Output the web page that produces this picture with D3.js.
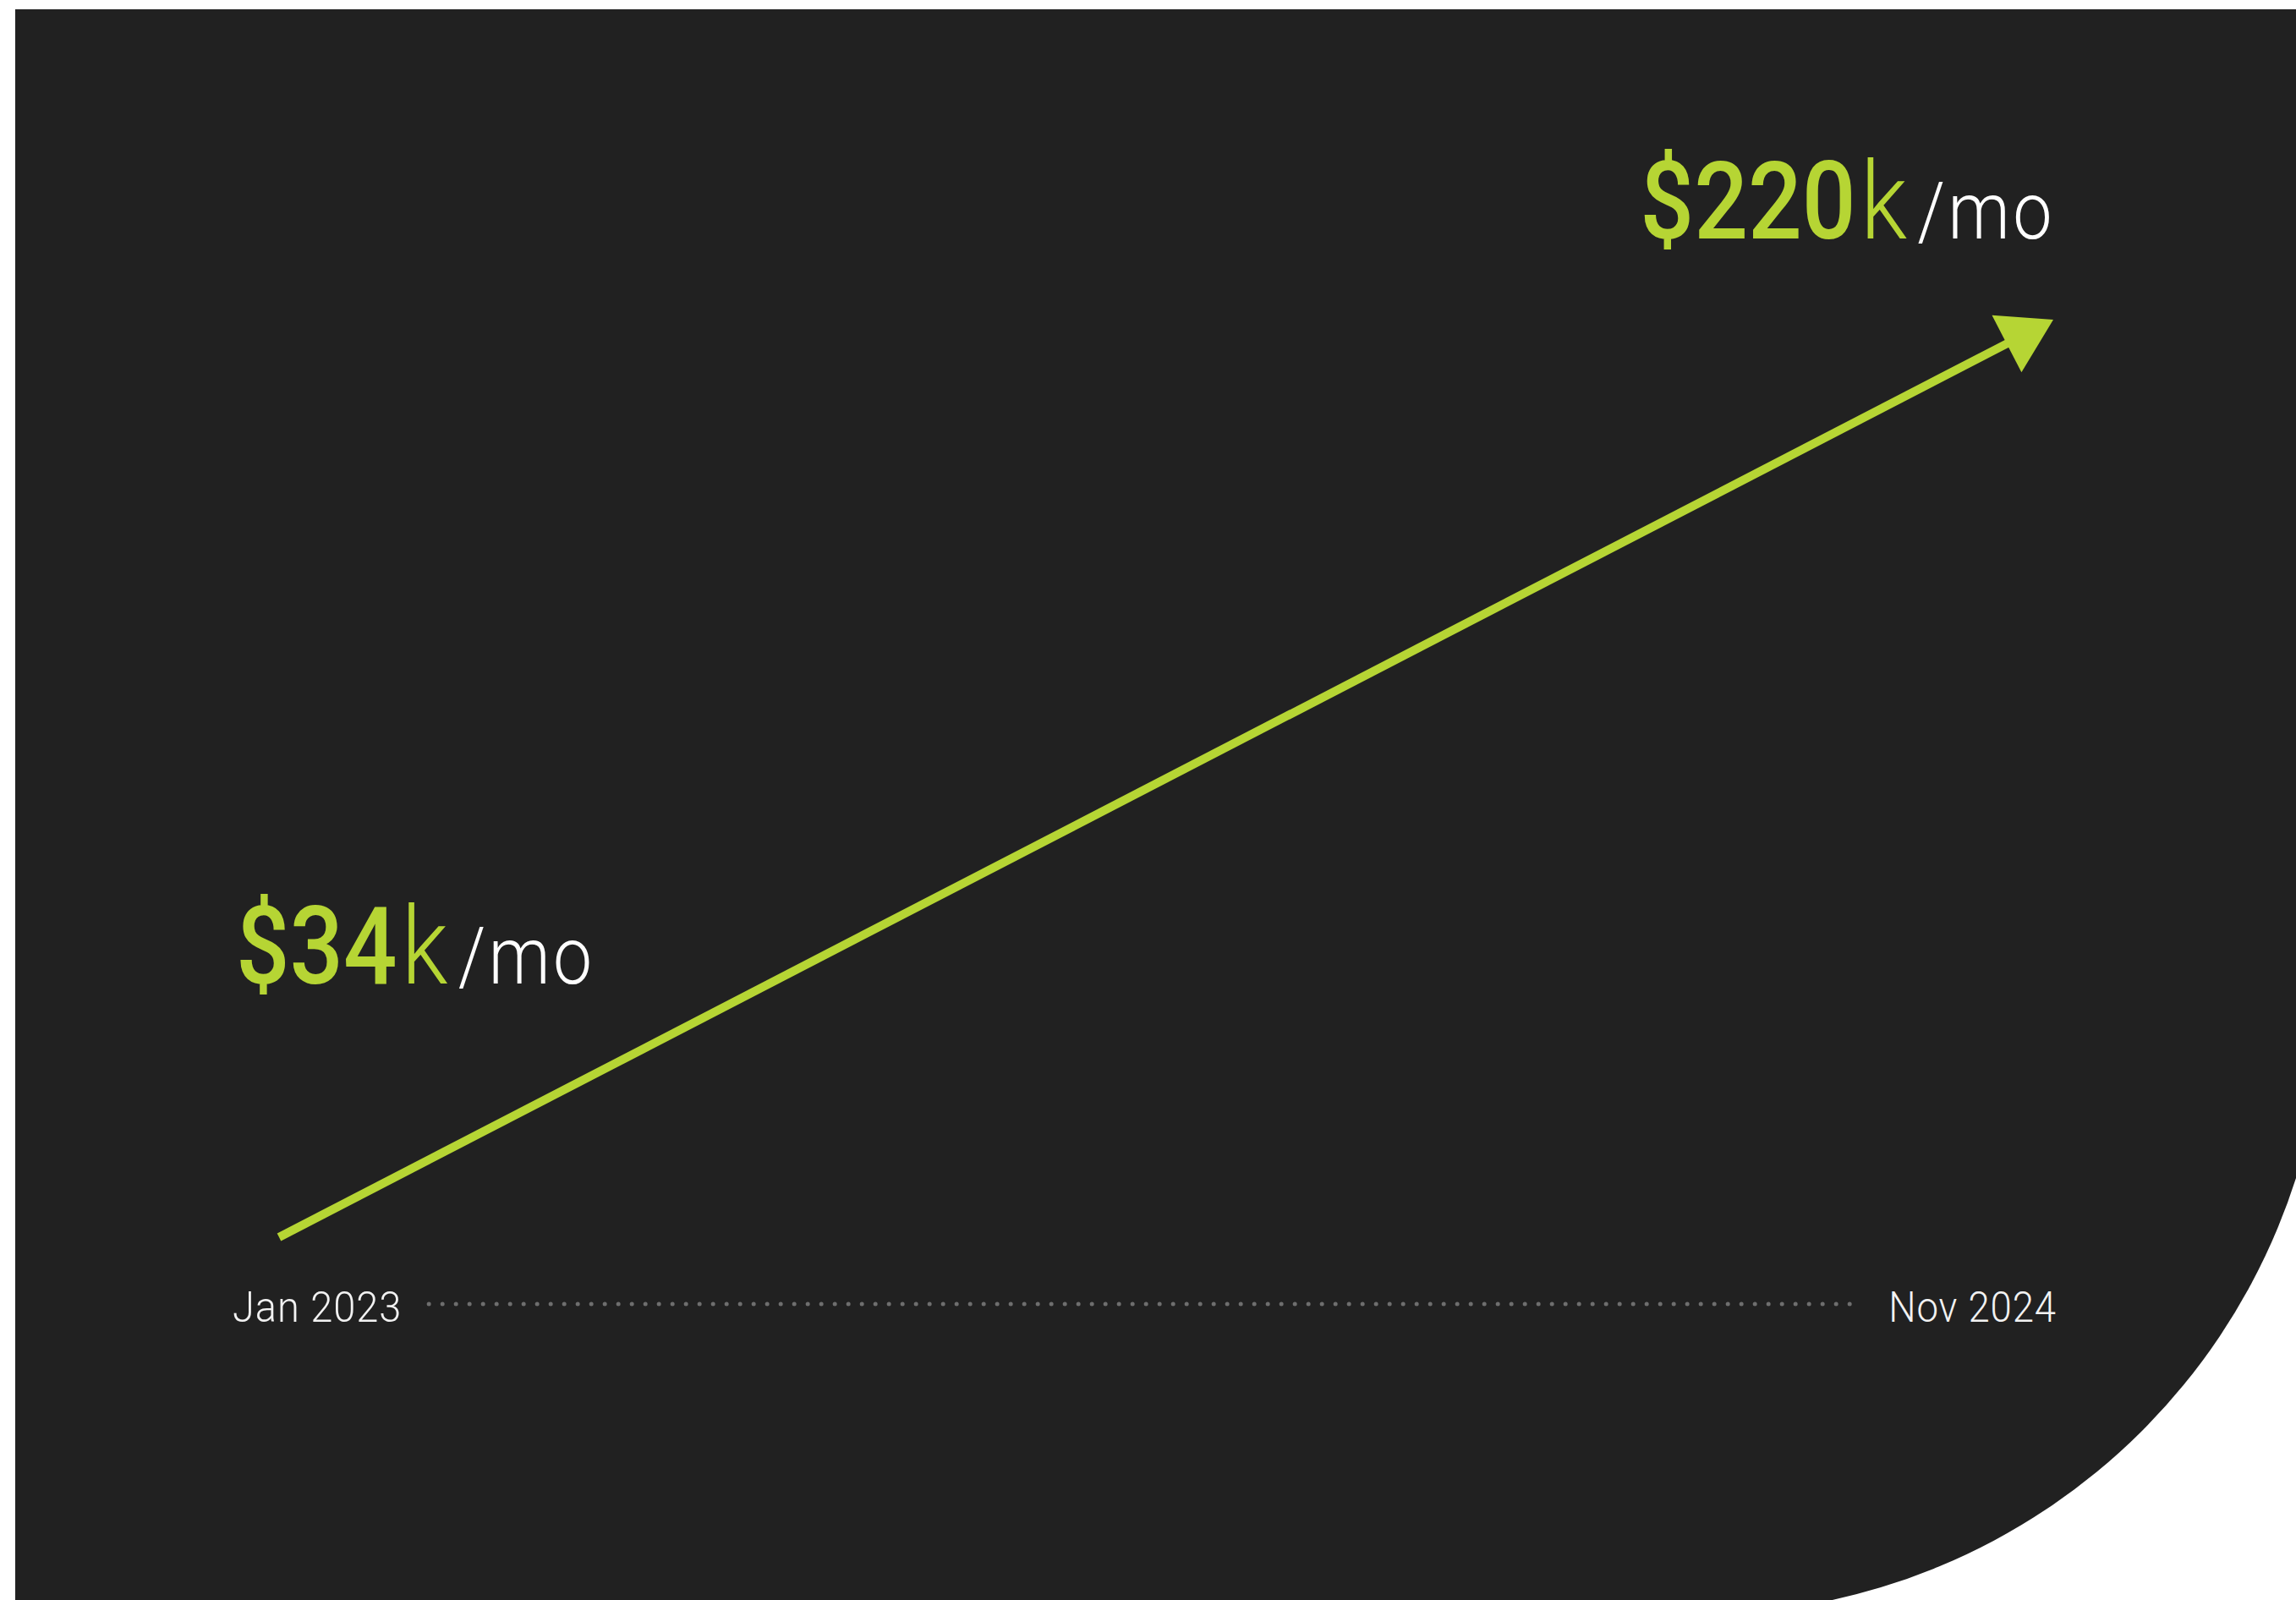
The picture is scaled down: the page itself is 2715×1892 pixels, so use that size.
<!DOCTYPE html>
<html lang="en">
<head>
<meta charset="utf-8">
<title>Monthly revenue Jan 2023 - Nov 2024</title>
<script src="https://cdn.jsdelivr.net/npm/d3@7"></script>
<style>
    html, body {
        margin: 0;
        padding: 0;
        background: #ffffff;
    }
    svg {
        display: block;
    }
    text {
        font-family: Roboto, "Noto Sans", sans-serif;
    }
</style>
</head>
<body>
<div id="chart"></div>
<script>
    // data
    var months = ["2023-01", "2024-11"];
    var revenue = [34, 220];               // $k per month
    var monthLabels = ["Jan 2023", "Nov 2024"];
    var unit = "/mo";

    var W = 2715, H = 1892;
    var green = "#b6d534",
        panel = "#212121";

    var parseMonth = d3.timeParse("%Y-%m");
    var data = months.map(function(m, i) {
        return { date: parseMonth(m), value: revenue[i], label: monthLabels[i] };
    });

    var svg = d3.select("#chart")
        .append("svg")
        .attr("width", W)
        .attr("height", H);

    // dark panel, big rounded corner at bottom right running off the page
    var R = 741;
    svg.append("path")
        .attr("fill", panel)
        .attr("d", `M18,11 H${2009 + R} V1168 A${R},${R} 0 0 1 2009,${1168 + R} H18 Z`);

    var x = d3.scaleTime()
        .domain(d3.extent(data, d => d.date))
        .range([330, 2428]);

    var y = d3.scaleLinear()
        .domain(d3.extent(data, d => d.value))
        .range([1463, 378]);

    // arrow: line plus a triangle head
    var p0 = [x(data[0].date), y(data[0].value)],
        p1 = [x(data[1].date), y(data[1].value)];
    var ang = Math.atan2(p1[1] - p0[1], p1[0] - p0[0]);
    var headLen = 62, headHalf = 38;
    var base = [p1[0] - headLen * Math.cos(ang), p1[1] - headLen * Math.sin(ang)];

    svg.append("line")
        .attr("x1", p0[0])
        .attr("y1", p0[1])
        .attr("x2", base[0] + 4 * Math.cos(ang))
        .attr("y2", base[1] + 4 * Math.sin(ang))
        .attr("stroke", green)
        .attr("stroke-width", 10);

    var nx = -Math.sin(ang), ny = Math.cos(ang);
    svg.append("path")
        .attr("fill", green)
        .attr("d", d3.line()([
            p1,
            [base[0] + nx * headHalf, base[1] + ny * headHalf],
            [base[0] - nx * headHalf, base[1] - ny * headHalf]
        ]) + "Z");

    // Barlow is not installed, squeeze Roboto to about its width
    function squeeze(sel, k) {
        sel.each(function() {
            var len = this.getComputedTextLength();
            d3.select(this)
                .attr("textLength", len * k)
                .attr("lengthAdjust", "spacingAndGlyphs");
        });
    }

    // value labels
    function valueLabel(d, px, py, anchor) {
        var t = svg.append("text")
            .attr("x", px)
            .attr("y", py)
            .attr("text-anchor", anchor);
        t.append("tspan")
            .attr("fill", green)
            .attr("font-weight", 500)
            .attr("font-size", 128)
            .text("$" + d.value);
        t.append("tspan")
            .attr("fill", green)
            .attr("font-weight", 300)
            .attr("font-size", 128)
            .attr("dx", 6)
            .text("k");
        t.append("tspan")
            .attr("fill", "#ffffff")
            .attr("font-weight", 300)
            .attr("font-size", 94)
            .attr("dx", 14)
            .attr("letter-spacing", 4)
            .text(unit);
        squeeze(t, 0.91);
        return t;
    }

    valueLabel(data[0], 279, y(data[0].value) - 300, "start");
    valueLabel(data[1], x(data[1].date) + 2, y(data[1].value) - 96, "end");

    // time axis: two end labels joined by a dotted rule
    var axisY = 1563;
    var left = svg.append("text")
        .attr("x", 275)
        .attr("y", axisY)
        .attr("fill", "#f2f2f2")
        .attr("font-weight", 300)
        .attr("font-size", 50)
        .attr("letter-spacing", 1)
        .text(data[0].label)
        .call(squeeze, 0.94);

    var right = svg.append("text")
        .attr("x", 2432)
        .attr("y", axisY)
        .attr("text-anchor", "end")
        .attr("fill", "#f2f2f2")
        .attr("font-weight", 300)
        .attr("font-size", 50)
        .attr("letter-spacing", 1)
        .text(data[1].label)
        .call(squeeze, 0.91);

    var lb = left.node().getBBox(),
        rb = right.node().getBBox();

    svg.append("line")
        .attr("x1", lb.x + lb.width + 32)
        .attr("x2", rb.x - 40)
        .attr("y1", axisY - 21)
        .attr("y2", axisY - 21)
        .attr("stroke", "#6e6e6e")
        .attr("stroke-width", 5)
        .attr("stroke-linecap", "round")
        .attr("stroke-dasharray", "0,16");
</script>
</body>
</html>
